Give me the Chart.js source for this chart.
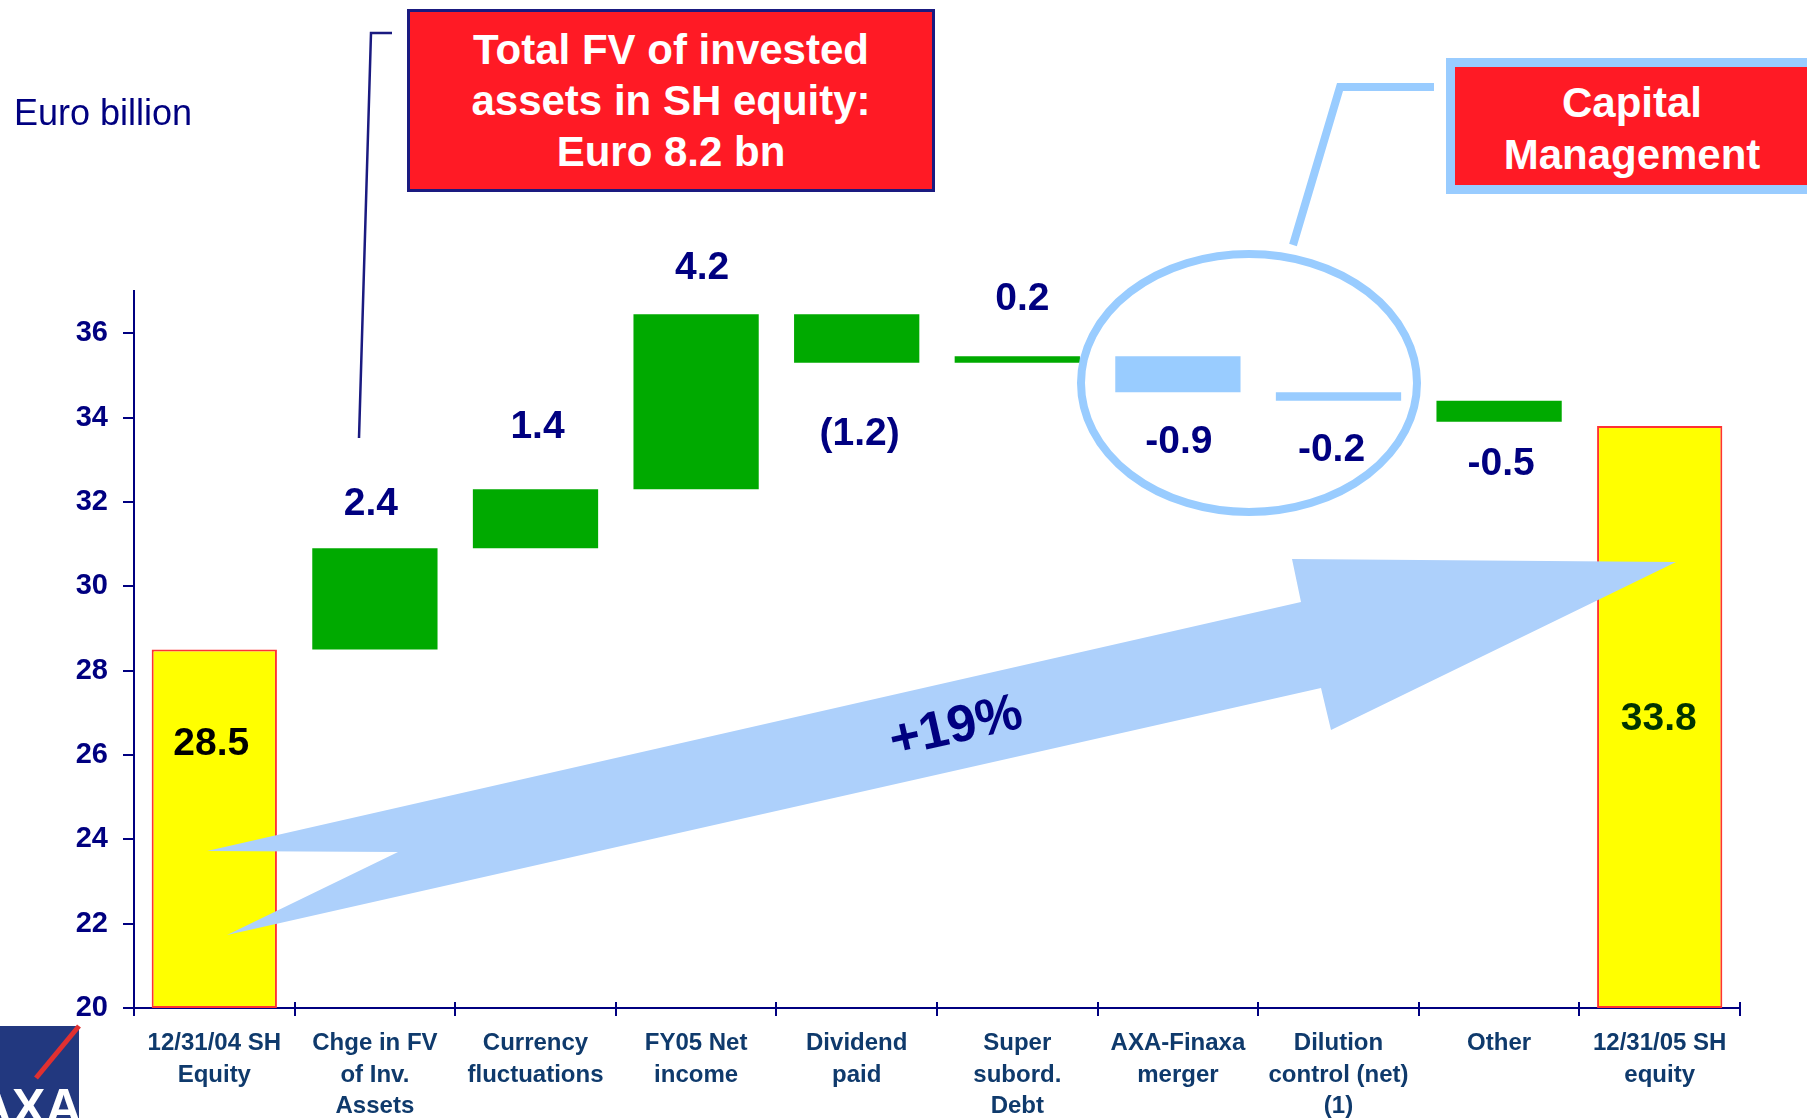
<!DOCTYPE html>
<html>
<head>
<meta charset="utf-8">
<script src="https://cdn.jsdelivr.net/npm/chart.js@4.4.1/dist/chart.umd.min.js"></script>
<style>
  html, body { margin: 0; padding: 0; background: #fff; overflow: hidden; }
  #wrap { position: relative; width: 1807px; height: 1118px; font-family: "Liberation Sans", Arial, sans-serif; }
  canvas { position: absolute; left: 0; top: 0; }
  .unit { position: absolute; left: 14px; top: 94px; font-size: 36px; line-height: 38px; color: #000080; }
  .box { position: absolute; box-sizing: border-box; display: flex; align-items: center; justify-content: center;
         text-align: center; color: #fff; font-weight: bold; font-size: 42px; background: #FF1A25; }
  #box1 { left: 407px; top: 9px; width: 528px; height: 183px; border: 3px solid #1A1A80; line-height: 51px; }
  #box2 { left: 1446px; top: 58px; width: 372px; height: 136px; border: 9px solid #99CCFF; line-height: 52px; padding-top: 6px; }
</style>
</head>
<body>
<div id="wrap">
  <canvas id="chart" width="1807" height="1118"></canvas>
  <div class="unit">Euro billion</div>
  <div class="box" id="box1"><div>Total FV of invested<br>assets in SH equity:<br>Euro 8.2 bn</div></div>
  <div class="box" id="box2"><div>Capital<br>Management</div></div>
</div>
<script>
// Categories and values (Euro billion)
const categories = [
    ['12/31/04 SH', 'Equity'],
    ['Chge in FV', 'of Inv.', 'Assets'],
    ['Currency', 'fluctuations'],
    ['FY05 Net', 'income'],
    ['Dividend', 'paid'],
    ['Super', 'subord.', 'Debt'],
    ['AXA-Finaxa', 'merger'],
    ['Dilution', 'control (net)', '(1)'],
    'Other',
    ['12/31/05 SH', 'equity']
];
const barStart = [20, 28.5, 30.9, 32.3, 36.45, 35.3, 35.45, 34.6, 34.4, 20];
const barEnd = [28.5, 30.9, 32.3, 36.45, 35.3, 35.45, 34.6, 34.4, 33.9, 33.8];
const valueLabels = ['28.5', '2.4', '1.4', '4.2', '(1.2)', '0.2', '-0.9', '-0.2', '-0.5', '33.8'];
const yTicks = [20, 22, 24, 26, 28, 30, 32, 34, 36];

// Styling per bar
const YELLOW = '#FFFF00', GREEN = '#00AA00', LBLUE = '#99CCFF', NAVY = '#000080';
const barColors = [YELLOW, GREEN, GREEN, GREEN, GREEN, GREEN, LBLUE, LBLUE, GREEN, YELLOW];
const barBorders = [2, 0, 0, 0, 0, 0, 0, 0, 0, 2];
const labelColors = ['#000000', NAVY, NAVY, NAVY, NAVY, NAVY, NAVY, NAVY, NAVY, '#003300'];
// label placement relative to the bar: anchor edge + pixel offsets
const labelAnchor = ['top', 'top', 'top', 'top', 'bottom', 'top', 'bottom', 'bottom', 'bottom', 'top'];
const labelDy = [95, -44, -62, -46, 72, -57, 50, 50, 43, 293];
const labelDx = [-3, -4, 2, 6, 3, 5, 1, -7, 2, -1];

const FONT = '"Liberation Sans", Arial, sans-serif';

const decorations = {
    id: 'decorations',
    afterDatasetsDraw(chart) {
        const ctx = chart.ctx;
        const xs = chart.scales.x;
        ctx.save();

        // small tick stubs above the category axis
        ctx.strokeStyle = NAVY;
        ctx.lineWidth = 2;
        const step = (xs.right - xs.left) / categories.length;
        for (let i = 0; i <= categories.length; i++) {
            const x = Math.round(xs.left + i * step);
            ctx.beginPath();
            ctx.moveTo(x, xs.top - 6);
            ctx.lineTo(x, xs.top);
            ctx.stroke();
        }

        // big growth arrow
        ctx.fillStyle = '#ADD0FB';
        ctx.beginPath();
        [[207, 851], [1301, 602], [1292, 559], [1676, 562], [1331, 730],
         [1321, 688], [227, 935], [398, 852]].forEach((p, i) => i ? ctx.lineTo(p[0], p[1]) : ctx.moveTo(p[0], p[1]));
        ctx.closePath();
        ctx.fill();

        ctx.save();
        ctx.translate(956, 728);
        ctx.rotate(-12.8 * Math.PI / 180);
        ctx.fillStyle = NAVY;
        ctx.font = 'bold 52px ' + FONT;
        ctx.textAlign = 'center';
        ctx.textBaseline = 'middle';
        ctx.fillText('+19%', 0, 0);
        ctx.restore();

        // capital management ellipse + callout
        ctx.strokeStyle = LBLUE;
        ctx.lineWidth = 8;
        ctx.beginPath();
        ctx.ellipse(1249, 383, 168, 129, 0, 0, Math.PI * 2);
        ctx.stroke();
        ctx.beginPath();
        ctx.moveTo(1434, 87);
        ctx.lineTo(1340, 87);
        ctx.lineTo(1293, 245);
        ctx.stroke();

        // callout for FV box
        ctx.strokeStyle = '#1A1A80';
        ctx.lineWidth = 2.5;
        ctx.beginPath();
        ctx.moveTo(392, 33);
        ctx.lineTo(371, 33);
        ctx.lineTo(359, 438);
        ctx.stroke();

        // value labels
        const bars = chart.getDatasetMeta(0).data;
        ctx.font = 'bold 39px ' + FONT;
        ctx.textAlign = 'center';
        ctx.textBaseline = 'middle';
        bars.forEach((bar, i) => {
            const top = Math.min(bar.y, bar.base);
            const bottom = Math.max(bar.y, bar.base);
            const y = (labelAnchor[i] === 'top' ? top : bottom) + labelDy[i];
            ctx.fillStyle = labelColors[i];
            ctx.fillText(valueLabels[i], bar.x + labelDx[i], y);
        });

        // AXA logo corner
        ctx.fillStyle = '#22387F';
        ctx.fillRect(0, 1026, 79, 92);
        ctx.strokeStyle = '#E03030';
        ctx.lineWidth = 5;
        ctx.beginPath();
        ctx.moveTo(79, 1026);
        ctx.lineTo(36, 1078);
        ctx.stroke();
        ctx.beginPath();
        ctx.rect(0, 1026, 79, 92);
        ctx.clip();
        ctx.fillStyle = '#fff';
        ctx.font = 'bold 50px ' + FONT;
        ctx.textAlign = 'left';
        ctx.textBaseline = 'alphabetic';
        ctx.fillText('AXA', -24, 1124);
        ctx.restore();
    }
};

new Chart(document.getElementById('chart'), {
    type: 'bar',
    data: {
        labels: categories,
        datasets: [{
            data: barStart.map((s, i) => [s, barEnd[i]]),
            backgroundColor: barColors,
            borderColor: '#FF3333',
            borderWidth: barBorders,
            borderSkipped: false,
            barPercentage: 0.78,
            categoryPercentage: 1
        }]
    },
    options: {
        responsive: false,
        animation: false,
        layout: { padding: { left: 0, top: 291, right: 67, bottom: 0 } },
        plugins: { legend: { display: false }, tooltip: { enabled: false } },
        scales: {
            x: {
                offset: true,
                grid: { offset: true, drawOnChartArea: false, drawTicks: true, tickLength: 8, color: NAVY, lineWidth: 2 },
                border: { display: true, color: NAVY, width: 2 },
                ticks: {
                    autoSkip: false, maxRotation: 0, padding: 11,
                    color: '#0F3A6C',
                    font: { family: FONT, size: 24, weight: 'bold', lineHeight: 1.33 }
                },
                afterFit(scale) { scale.height = 110; }
            },
            y: {
                min: 20,
                max: 37,
                ticks: {
                    stepSize: 2, padding: 15, color: NAVY,
                    font: { family: FONT, size: 29, weight: 'bold' }
                },
                afterBuildTicks(scale) { scale.ticks = yTicks.map(v => ({ value: v })); },
                grid: { drawOnChartArea: false, drawTicks: true, tickLength: 11, color: NAVY, lineWidth: 2 },
                border: { display: true, color: NAVY, width: 2 },
                afterFit(scale) { scale.width = 134; }
            }
        }
    },
    plugins: [decorations]
});
</script>
</body>
</html>
